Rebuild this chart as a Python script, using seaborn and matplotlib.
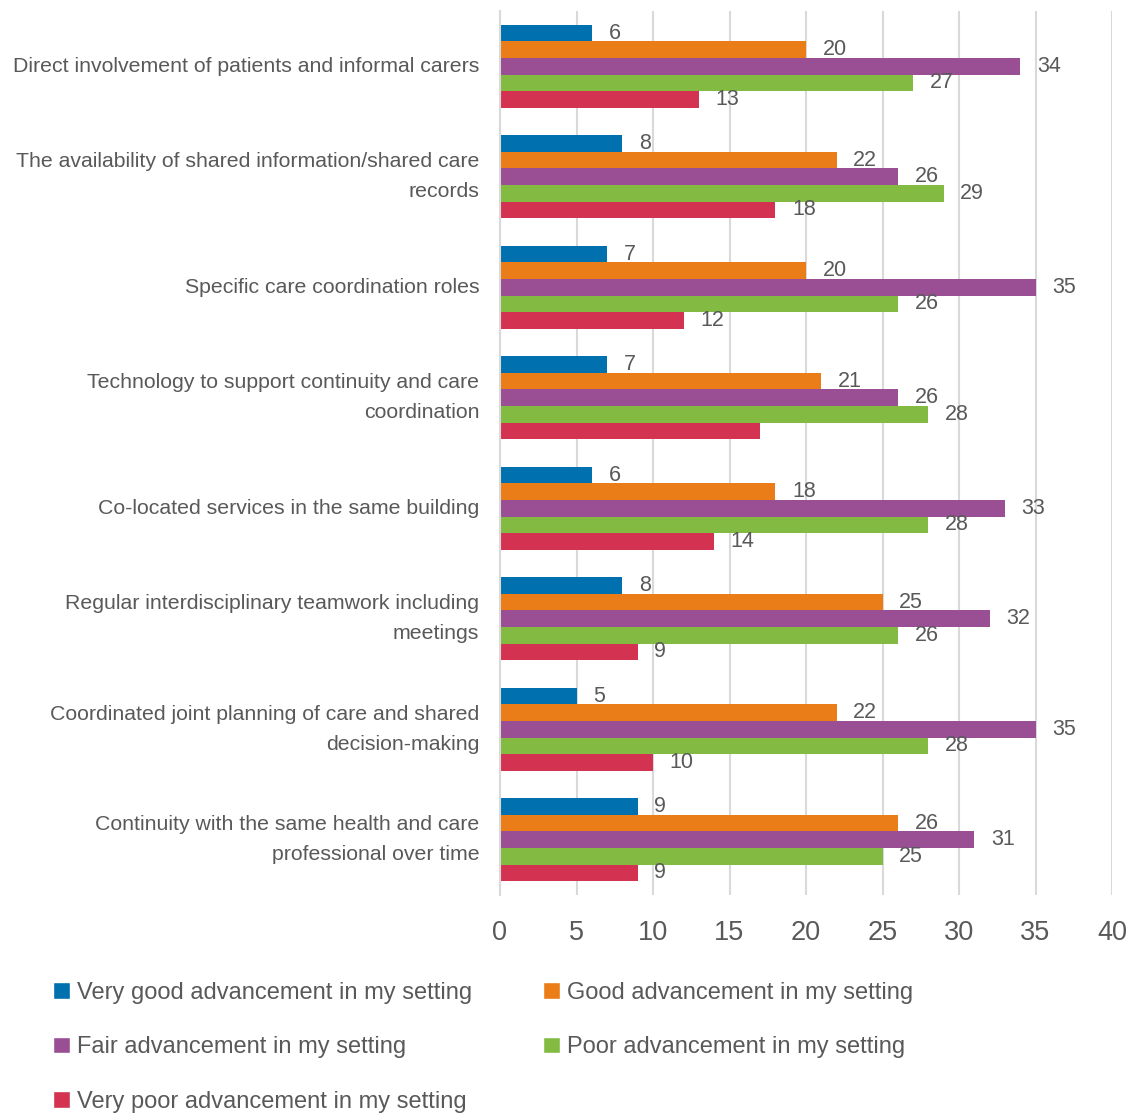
import matplotlib
matplotlib.use('Agg')
import matplotlib.pyplot as plt
import pandas as pd
import seaborn as sns
from matplotlib.patches import Patch

# Categories (top to bottom) and series
categories = [
    'Direct involvement of patients and informal carers',
    'The availability of shared information/shared care\nrecords',
    'Specific care coordination roles',
    'Technology to support continuity and care\ncoordination',
    'Co-located services in the same building',
    'Regular interdisciplinary teamwork including\nmeetings',
    'Coordinated joint planning of care and shared\ndecision-making',
    'Continuity with the same health and care\nprofessional over time',
]
series = [
    'Very good advancement in my setting',
    'Good advancement in my setting',
    'Fair advancement in my setting',
    'Poor advancement in my setting',
    'Very poor advancement in my setting',
]
very_good = [6, 8, 7, 7, 6, 8, 5, 9]
good = [20, 22, 20, 21, 18, 25, 22, 26]
fair = [34, 26, 35, 26, 33, 32, 35, 31]
poor = [27, 29, 26, 28, 28, 26, 28, 25]
very_poor = [13, 18, 12, 17, 14, 9, 10, 9]
# the reference shows no label on the very poor bar for "Technology..."
hidden_labels = [('Very poor advancement in my setting', 3)]

colors = ['#0070AE', '#EA7D17', '#9A4E94', '#82BA42', '#D33350']
text_color = '#595959'

values = [very_good, good, fair, poor, very_poor]
rows = []
for s, vals in zip(series, values):
    for c, v in zip(categories, vals):
        rows.append({'Category': c, 'Series': s, 'Value': v})
df = pd.DataFrame(rows)

sns.set_style('white')
plt.rcParams['font.family'] = ['Liberation Sans', 'DejaVu Sans']

fig = plt.figure(figsize=(11.28, 11.15), dpi=100)
ax = fig.add_axes([500 / 1128, 1 - 895 / 1115, 612 / 1128, 884 / 1115])

sns.barplot(data=df, x='Value', y='Category', hue='Series', order=categories,
            hue_order=series, palette=colors, orient='h', width=0.75,
            saturation=1, linewidth=0, ax=ax, legend=False)

for i, (s, cont) in enumerate(zip(series, ax.containers)):
    labels = []
    for j, v in enumerate(values[i]):
        labels.append('' if (s, j) in hidden_labels else str(v))
    ax.bar_label(cont, labels=labels, padding=12, fontsize=15.5, color=text_color)

ax.set_xlim(0, 40)
ax.set_xticks(range(0, 41, 5))
ax.set_xlabel('')
ax.set_ylabel('')
ax.grid(axis='x', color='#D9D9D9', linewidth=1.5)
ax.set_axisbelow(True)
for side in ['top', 'right', 'bottom']:
    ax.spines[side].set_visible(False)
ax.spines['left'].set_color('#D9D9D9')
ax.spines['left'].set_linewidth(1.5)
ax.tick_params(axis='x', length=0, pad=18, labelsize=19.5, colors=text_color)
ax.tick_params(axis='y', length=0, pad=15, labelsize=15.3, colors=text_color)
for lab in ax.get_yticklabels():
    lab.set_horizontalalignment('right')
    lab.set_verticalalignment('center')
    lab.set_multialignment('right')
    lab.set_linespacing(1.75)

# legend filled row by row like the reference (matplotlib fills column-wise)
handles = [Patch(facecolor=c, label=s) for c, s in zip(colors, series)]
legend_order = [0, 2, 4, 1, 3]
fig.legend(handles=[handles[k] for k in legend_order], loc='upper left',
           bbox_to_anchor=(0.039, 0.128), ncol=2, frameon=False, fontsize=17,
           labelcolor=text_color, handlelength=0.7, handleheight=0.7,
           handletextpad=0.3, labelspacing=1.38, columnspacing=3.0,
           borderaxespad=0)

fig.savefig('out.png', dpi=100)
